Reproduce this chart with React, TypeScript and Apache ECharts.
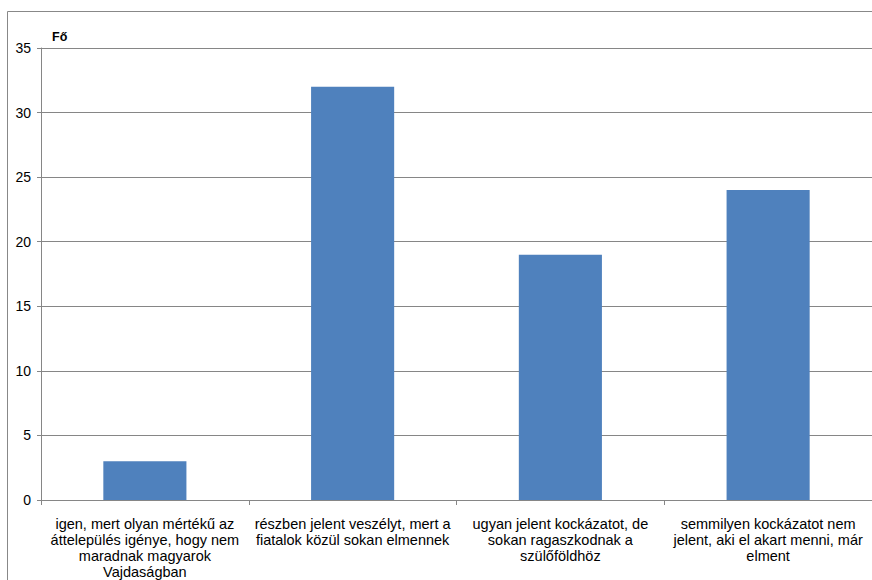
import React, { useEffect, useRef } from "react";
import * as echarts from "echarts";

const categories: string[] = [
  "igen, mert olyan mértékű az\náttelepülés igénye, hogy nem\nmaradnak magyarok\nVajdaságban",
  "részben jelent veszélyt, mert a\nfiatalok közül sokan elmennek",
  "ugyan jelent kockázatot, de\nsokan ragaszkodnak a\nszülőföldhöz",
  "semmilyen kockázatot nem\njelent, aki el akart menni, már\nelment",
];
const values: number[] = [3, 32, 19, 24];
const yAxisTitle = "Fő";

export default function App() {
  const ref = useRef<HTMLDivElement>(null);
  useEffect(() => {
    if (!ref.current) return;
    const chart = echarts.init(ref.current, undefined, { renderer: "svg" });
    const font = "Liberation Sans, Arial, sans-serif";
    chart.setOption({
      animation: false,
      backgroundColor: "#ffffff",
      textStyle: { fontFamily: font },
      graphic: [
        {
          type: "rect",
          shape: { x: 7.5, y: 11.5, width: 900, height: 700 },
          style: { fill: "none", stroke: "#888888", lineWidth: 1 },
          silent: true,
        },
        {
          type: "text",
          left: 52,
          top: 30,
          style: { text: yAxisTitle, font: `bold 12.5px ${font}`, fill: "#000000" },
        },
      ],
      grid: { left: 41, right: -1, top: 48, bottom: 79, containLabel: false },
      xAxis: {
        type: "category",
        data: categories,
        axisLine: { lineStyle: { color: "#868686", width: 1 } },
        axisTick: { show: true, length: 5, lineStyle: { color: "#868686" } },
        axisLabel: {
          interval: 0,
          color: "#000000",
          fontSize: 14.5,
          lineHeight: 16,
          margin: 16,
          fontFamily: font,
          align: "center",
        },
      },
      yAxis: {
        type: "value",
        min: 0,
        max: 35,
        interval: 5,
        axisLine: { show: true, lineStyle: { color: "#868686", width: 1 } },
        axisTick: { show: true, length: 4, lineStyle: { color: "#868686" } },
        axisLabel: { color: "#000000", fontSize: 14, margin: 10, fontFamily: font },
        splitLine: { show: true, lineStyle: { color: "#868686", width: 1 } },
      },
      series: [
        {
          type: "bar",
          data: values,
          barWidth: "40%",
          itemStyle: { color: "#4F81BD" },
        },
      ],
    });
    return () => chart.dispose();
  }, []);
  return (
    <div
      ref={ref}
      style={{ position: "fixed", left: 0, top: 0, width: 872, height: 580 }}
    />
  );
}
